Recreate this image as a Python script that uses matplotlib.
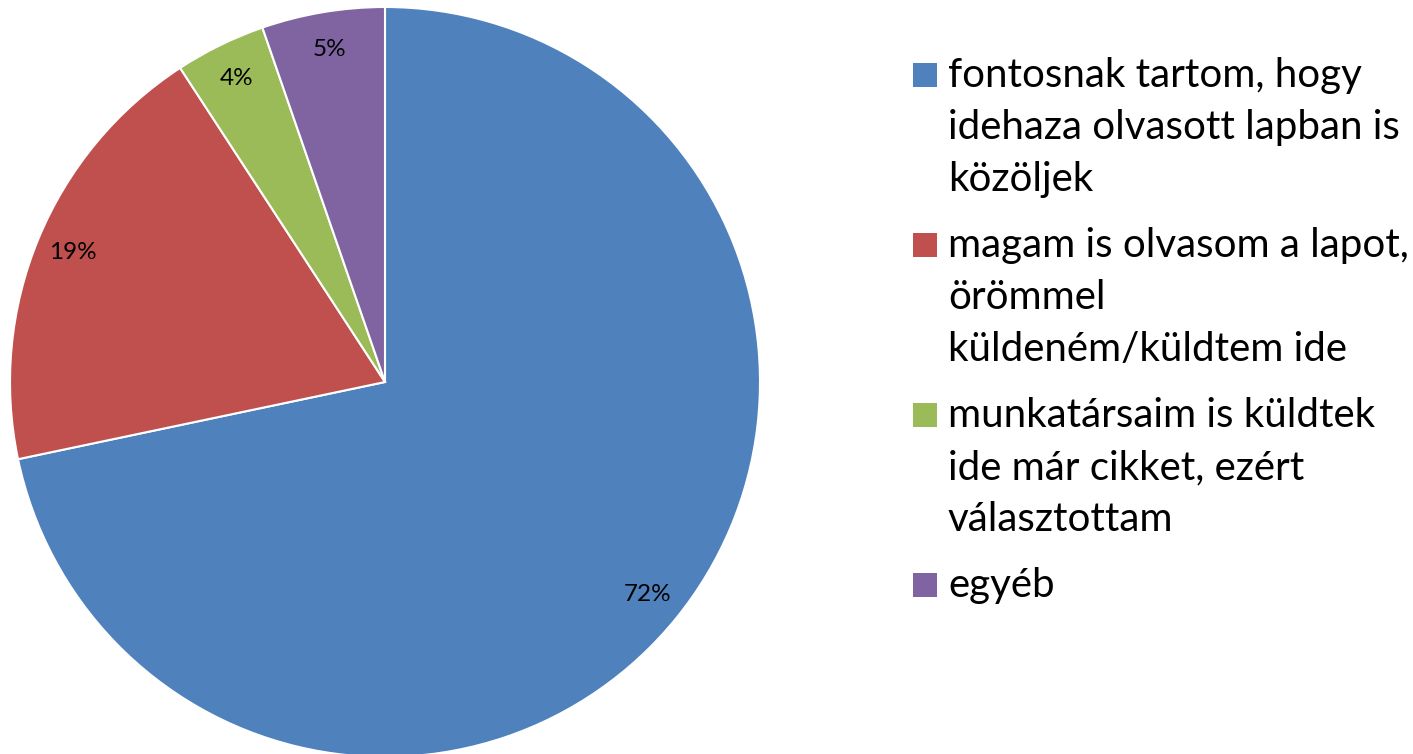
import matplotlib
matplotlib.use("Agg")
import matplotlib.pyplot as plt
from matplotlib.patches import Rectangle

labels = [
    "fontosnak tartom, hogy\nidehaza olvasott lapban is\nközöljek",
    "magam is olvasom a lapot,\nörömmel\nküldeném/küldtem ide",
    "munkatársaim is küldtek\nide már cikket, ezért\nválasztottam",
    "egyéb",
]
shares = [71.7, 19.1, 3.9, 5.3]
colors = ["#4F81BD", "#C0504D", "#9BBB59", "#8064A2"]

plt.rcParams["font.family"] = ["Lato", "DejaVu Sans"]

W, H = 1413, 754
fig = plt.figure(figsize=(W / 100, H / 100), dpi=100)

cx, cy, r = 385, 382, 375
ax = fig.add_axes([(cx - r) / W, (H - cy - r) / H, 2 * r / W, 2 * r / H])
wedges, _, autotexts = ax.pie(
    shares, colors=colors, startangle=90, counterclock=False,
    autopct=lambda p: f"{p:.0f}%", pctdistance=0.9,
    wedgeprops=dict(edgecolor="white", linewidth=1.5),
    textprops=dict(fontsize=17.5, color="black"),
)
ax.set_xlim(-1, 1)
ax.set_ylim(-1, 1)
ax.set_aspect("equal")
ax.axis("off")

# legend drawn by hand so the square sits on the first line (pixel coords, y from top)
line_h = 52
entry_gap = 66
box = 24
y = 87  # baseline of the first line
for lab, col in zip(labels, colors):
    fig.patches.append(Rectangle((913 / W, 1 - y / H), box / W, box / H,
                                 transform=fig.transFigure, facecolor=col,
                                 edgecolor="none"))
    lines = lab.split("\n")
    for i, line in enumerate(lines):
        fig.text(948 / W, 1 - (y + i * line_h) / H, line, fontsize=29,
                 ha="left", va="baseline")
    y += (len(lines) - 1) * line_h + entry_gap

fig.savefig("out.png", dpi=100)
